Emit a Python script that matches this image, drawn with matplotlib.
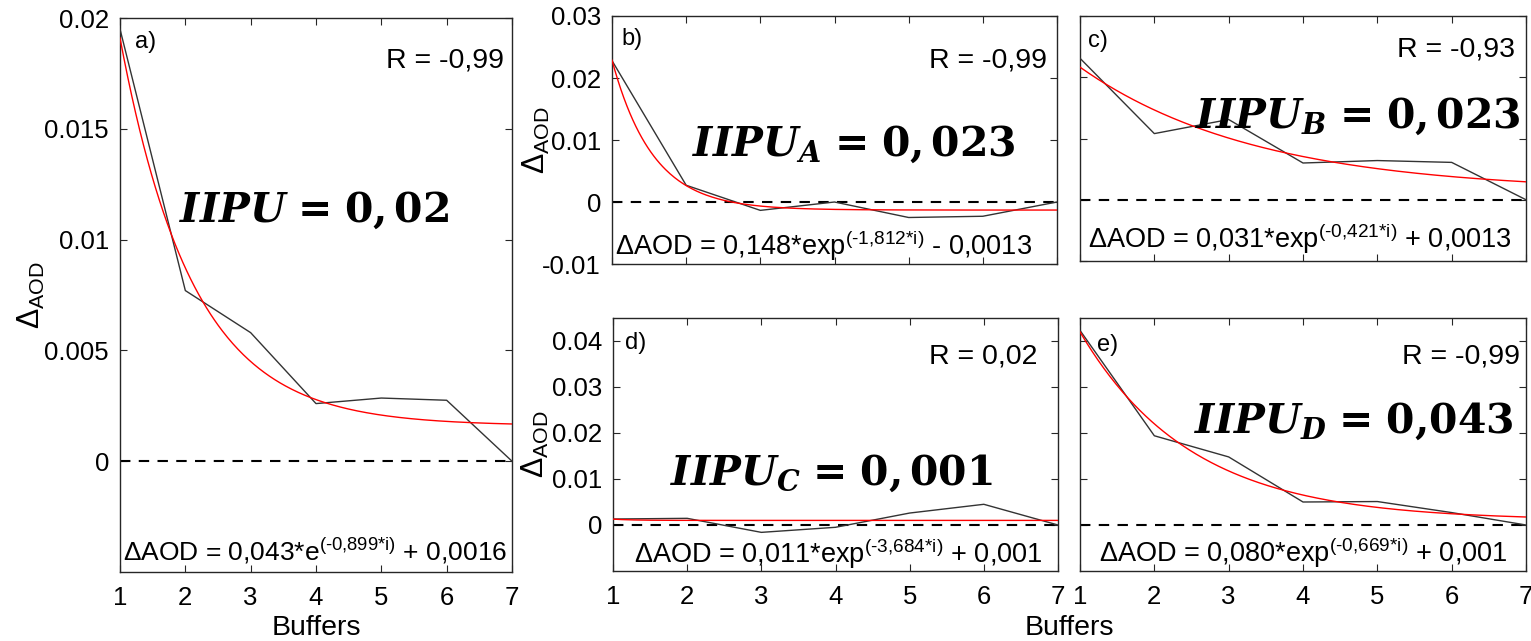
import numpy as np
import matplotlib
matplotlib.use("Agg")
import matplotlib.pyplot as plt

plt.rcParams["font.family"] = ["Liberation Sans", "DejaVu Sans"]
plt.rcParams["mathtext.fontset"] = "custom"
plt.rcParams["mathtext.rm"] = "Liberation Sans"
plt.rcParams["mathtext.it"] = "Liberation Sans:italic"
plt.rcParams["mathtext.bf"] = "DejaVu Serif:bold"
plt.rcParams["mathtext.bfit"] = "DejaVu Serif:italic:bold"

# Buffer index
buffers = [1, 2, 3, 4, 5, 6, 7]

# Mean AOD difference per buffer for each region
delta_all = [0.0195, 0.0077, 0.0058, 0.0026, 0.00285, 0.00275, 0.0]
delta_A = [0.0228, 0.0027, -0.00135, 0.0, -0.0025, -0.0023, 0.0]
delta_B = [0.0231, 0.0108, 0.0131, 0.0060, 0.0064, 0.0061, 0.0]
delta_C = [0.0013, 0.00145, -0.0016, -0.0005, 0.0026, 0.0045, 0.0]
delta_D = [0.0423, 0.0194, 0.0148, 0.0050, 0.0051, 0.0027, 0.0]

# Exponential fit parameters: a*exp(b*i) + c
fit_all = (0.043, -0.899, 0.0016)
fit_A = (0.148, -1.812, -0.0013)
fit_B = (0.031, -0.421, 0.0013)
fit_C = (0.011, -3.684, 0.001)
fit_D = (0.080, -0.669, 0.001)

panel_letters = ["a)", "b)", "c)", "d)", "e)"]
r_labels = ["R = -0,99", "R = -0,99", "R = -0,93", "R = 0,02", "R = -0,99"]
iipu_labels = [
    r"$\mathbfit{IIPU}\,\mathbf{=}\,\mathbf{0,02}$",
    r"$\mathbfit{IIPU}_{\mathbfit{A}}\,\mathbf{=}\,\mathbf{0,023}$",
    r"$\mathbfit{IIPU}_{\mathbfit{B}}\,\mathbf{=}\,\mathbf{0,023}$",
    r"$\mathbfit{IIPU}_{\mathbfit{C}}\,\mathbf{=}\,\mathbf{0,001}$",
    r"$\mathbfit{IIPU}_{\mathbfit{D}}\,\mathbf{=}\,\mathbf{0{,}043}$",
]
eq_labels = [
    r"ΔAOD = 0,043*e$^{\text{(-0,899*i)}}$ + 0,0016",
    r"ΔAOD = 0,148*exp$^{\text{(-1,812*i)}}$ - 0,0013",
    r"ΔAOD = 0,031*exp$^{\text{(-0,421*i)}}$ + 0,0013",
    r"ΔAOD = 0,011*exp$^{\text{(-3,684*i)}}$ + 0,001",
    r"ΔAOD = 0,080*exp$^{\text{(-0,669*i)}}$ + 0,001",
]
eq_sizes = [19, 19.5, 19.5, 19.5, 19.5]
series = [delta_all, delta_A, delta_B, delta_C, delta_D]
fits = [fit_all, fit_A, fit_B, fit_C, fit_D]
ylims = [(-0.005, 0.02), (-0.01, 0.03), (-0.01, 0.03), (-0.01, 0.045), (-0.01, 0.045)]
yticks = [
    [0, 0.005, 0.01, 0.015, 0.02],
    [-0.01, 0, 0.01, 0.02, 0.03],
    [-0.01, 0, 0.01, 0.02, 0.03],
    [0, 0.01, 0.02, 0.03, 0.04],
    [0, 0.01, 0.02, 0.03, 0.04],
]

W, H = 1531, 641
fig = plt.figure(figsize=(W / 100, H / 100), dpi=100)

# axes boxes in pixels: left, top, right, bottom
boxes = [
    (120, 18, 512, 572),
    (612, 16, 1057, 264),
    (1080, 16, 1526, 261),
    (613, 318, 1058, 571),
    (1080, 318, 1526, 571),
]
show_xlabels = [True, False, False, True, True]
show_ylabels = [True, True, False, True, False]

letter_pos = [(0.038, 0.946), (0.022, 0.883), (0.018, 0.873), (0.027, 0.877), (0.038, 0.870)]
r_pos = [(0.980, 0.910), (0.978, 0.794), (0.975, 0.833), (0.953, 0.822), (0.987, 0.822)]
eq_pos = [(0.008, 0.020), (0.007, 0.036), (0.018, 0.053), (0.047, 0.032), (0.043, 0.036)]
iipu_pos = [(0.150, 0.632), (0.180, 0.435), (0.258, 0.543), (0.128, 0.340), (0.256, 0.545)]
ylabel_x = [-0.186, -0.135, None, -0.139, None]

edge = "#262626"
xs = np.linspace(1, 7, 300)

for i in range(5):
    l, t, r, b = boxes[i]
    ax = fig.add_axes([l / W, 1 - b / H, (r - l) / W, (b - t) / H])
    ax.plot(buffers, series[i], color="#333333", lw=1.0, zorder=3)
    a_, k_, c_ = fits[i]
    ax.plot(xs, a_ * np.exp(k_ * xs) + c_, color="#ff0000", lw=1.0, zorder=4)
    ax.plot([buffers[0], buffers[-1]], [0, 0], color="black", lw=1.5,
            ls=(0, (5, 4)), zorder=2)

    ax.set_xlim(1, 7)
    ax.set_ylim(*ylims[i])
    ax.set_xticks(buffers)
    ax.set_yticks(yticks[i])
    ax.set_yticklabels([f"{v:g}" for v in yticks[i]])
    ax.tick_params(direction="in", length=5, width=0.8, top=True, right=True,
                   labelsize=18.5, colors="black", pad=8)
    ax.tick_params(axis="x", pad=10)
    for s in ax.spines.values():
        s.set_color(edge)
        s.set_linewidth(1.0)
    ax.tick_params(color=edge)
    if not show_xlabels[i]:
        ax.set_xticklabels([])
    if not show_ylabels[i]:
        ax.set_yticklabels([])
    else:
        ax.set_ylabel(r"$\Delta_{\mathrm{AOD}}$", fontsize=22)
        ax.yaxis.set_label_coords(ylabel_x[i], 0.5)

    ax.text(*letter_pos[i], panel_letters[i], transform=ax.transAxes,
            fontsize=17, ha="left", va="baseline")
    ax.text(*r_pos[i], r_labels[i], transform=ax.transAxes,
            fontsize=20.5, ha="right", va="baseline")
    ax.text(*eq_pos[i], eq_labels[i], transform=ax.transAxes,
            fontsize=eq_sizes[i], ha="left", va="baseline")
    ax.text(*iipu_pos[i], iipu_labels[i], transform=ax.transAxes,
            fontsize=29.5, ha="left", va="baseline", zorder=5)

    if i == 0:
        ax.set_xlabel("Buffers", fontsize=20.5)
        ax.xaxis.set_label_coords(0.5, -0.078)

fig.text(1069 / W, 1 - 628 / H, "Buffers", fontsize=20.5, ha="center", va="center")

fig.savefig("out.png", dpi=100)
